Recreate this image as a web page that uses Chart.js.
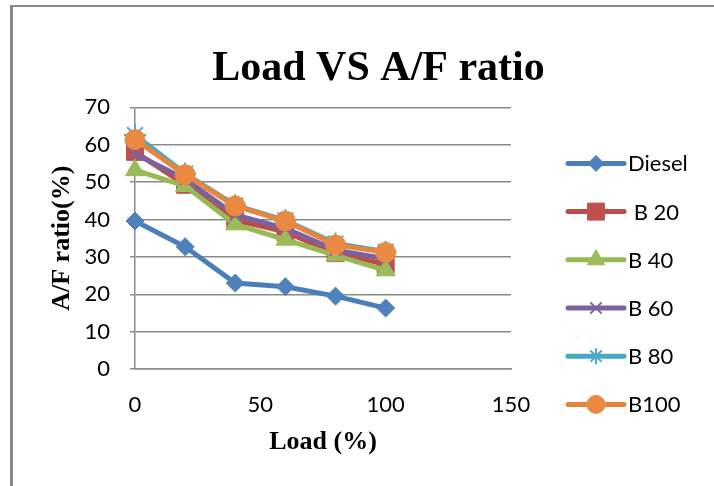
<!DOCTYPE html>
<html>
<head>
<meta charset="utf-8">
<title>Load VS A/F ratio</title>
<script src="https://cdn.jsdelivr.net/npm/chart.js@4.4.0/dist/chart.umd.min.js"></script>
<style>
    html, body { margin: 0; padding: 0; background: #fff; overflow: hidden; }
    .frame {
        position: absolute; left: 10px; top: 5px; width: 760px; height: 520px;
        border-left: 3px solid #8a8a8a; border-top: 2px solid #8a8a8a;
    }
    #chart { position: absolute; left: 0; top: 0; }
</style>
</head>
<body>
<div class="frame"></div>
<canvas id="chart" width="714" height="486"></canvas>
<script>
// load points (%)
const loads = [0, 20, 40, 60, 80, 100];

// A/F ratio
const diesel = [39.6, 32.7, 23.0, 22.0, 19.5, 16.3];
const b20 = [58.1, 49.3, 39.8, 36.7, 31.0, 28.0];
const b40 = [53.2, 49.0, 38.7, 34.6, 30.4, 26.4];
const b60 = [57.6, 50.8, 41.2, 37.6, 31.8, 29.5];
const b80 = [62.6, 52.3, 43.8, 39.8, 33.6, 31.4];
const b100 = [61.4, 52.0, 43.6, 39.6, 33.2, 31.2];

const seriesLabels = ['Diesel', ' B 20', 'B 40', 'B 60', 'B 80', 'B100'];
const seriesValues = [diesel, b20, b40, b60, b80, b100];

const lineColors = ['#4A7DBA', '#BE4B48', '#98B954', '#7D60A0', '#46AAC5', '#E9853A'];
const markerColors = ['#4F81BD', '#C0504D', '#9BBB59', '#8064A2', '#4BACC6', '#EA8A42'];
const markerStyles = ['rectRot', 'rect', 'triangle', 'crossRot', 'star', 'circle'];
const markerSizes = [9, 12, 11, 8, 11, 10];
const legendSizes = [8, 12, 10, 8, 8, 9];

const xTicks = [0, 50, 100, 150];

const serif = "'Liberation Serif', 'Times New Roman', serif";
const sans = "Lato, 'Open Sans', sans-serif";

function toPoints(values) {
    return values.map((v, i) => ({ x: loads[i], y: v }));
}

const datasets = seriesValues.map((values, i) => {
    const open = markerStyles[i] === 'crossRot' || markerStyles[i] === 'star';
    return {
        label: seriesLabels[i],
        data: toPoints(values),
        borderColor: lineColors[i],
        backgroundColor: markerColors[i],
        borderWidth: 5,
        pointStyle: markerStyles[i],
        pointRadius: markerSizes[i],
        pointHoverRadius: markerSizes[i],
        pointBackgroundColor: markerColors[i],
        pointBorderColor: markerColors[i],
        pointBorderWidth: open ? 2 : 1,
        showLine: true,
        tension: 0,
        clip: false,
        order: seriesValues.length - i
    };
});

// legend drawn in the space kept free by the spare right axis
const sideLegend = {
    id: 'sideLegend',
    afterDraw(chart) {
        const ctx = chart.ctx;
        const area = chart.chartArea;
        const lineStart = area.right + 57;
        const lineEnd = area.right + 113;
        const mid = area.right + 85;
        const textX = area.right + 117;
        ctx.save();
        chart.data.datasets.forEach((ds, i) => {
            const y = area.top + 56 + i * 48.2;
            ctx.strokeStyle = ds.borderColor;
            ctx.lineWidth = 5;
            ctx.lineCap = 'round';
            ctx.beginPath();
            ctx.moveTo(lineStart, y);
            ctx.lineTo(lineEnd, y);
            ctx.stroke();

            ctx.fillStyle = ds.pointBackgroundColor;
            ctx.strokeStyle = ds.pointBorderColor;
            ctx.lineWidth = ds.pointBorderWidth;
            ctx.lineCap = 'butt';
            Chart.helpers.drawPoint(ctx, {
                pointStyle: ds.pointStyle,
                radius: legendSizes[i],
                rotation: 0,
                borderWidth: ds.pointBorderWidth
            }, mid, y);

            ctx.fillStyle = '#000';
            ctx.font = '22px ' + sans;
            ctx.textAlign = 'left';
            ctx.textBaseline = 'middle';
            ctx.fillText(ds.label, textX, y + 1);
        });
        ctx.restore();
    }
};

new Chart(document.getElementById('chart'), {
    type: 'scatter',
    data: { datasets: datasets },
    options: {
        responsive: false,
        animation: false,
        layout: { padding: { left: 43, right: 0, top: 0, bottom: 24 } },
        plugins: {
            legend: { display: false },
            tooltip: { enabled: false },
            title: {
                display: true,
                text: 'Load VS A/F ratio',
                color: '#000',
                font: { family: serif, size: 42, weight: 'bold' },
                padding: { top: 44, bottom: 13 }
            }
        },
        scales: {
            x: {
                type: 'linear',
                min: 0,
                max: 150,
                afterBuildTicks: s => { s.ticks = xTicks.map(v => ({ value: v })); },
                afterFit: s => { s.height = 93; },
                grid: { display: false, drawTicks: false },
                border: { display: true, color: '#8a8a8a', width: 1.5 },
                ticks: { color: '#000', padding: 23, font: { family: sans, size: 22 } },
                title: {
                    display: true,
                    text: 'Load (%)',
                    color: '#000',
                    font: { family: serif, size: 26, weight: 'bold' },
                    padding: { top: 9, bottom: 4 }
                }
            },
            y: {
                type: 'linear',
                min: 0,
                max: 70,
                afterFit: s => { s.width = 92; },
                grid: { color: '#8a8a8a', lineWidth: 1.5, drawTicks: true, tickLength: 5 },
                border: { display: true, color: '#8a8a8a', width: 1.5 },
                ticks: { stepSize: 10, color: '#000', padding: 20, font: { family: sans, size: 22 } },
                title: {
                    display: true,
                    text: 'A/F ratio(%)',
                    color: '#000',
                    font: { family: serif, size: 26, weight: 'bold' },
                    padding: { top: 4, bottom: 4 }
                }
            },
            legendSpace: {
                type: 'linear',
                position: 'right',
                display: true,
                afterFit: s => { s.width = 203; },
                grid: { display: false, drawTicks: false },
                border: { display: false },
                ticks: { display: false }
            }
        }
    },
    plugins: [sideLegend]
});
</script>
</body>
</html>
